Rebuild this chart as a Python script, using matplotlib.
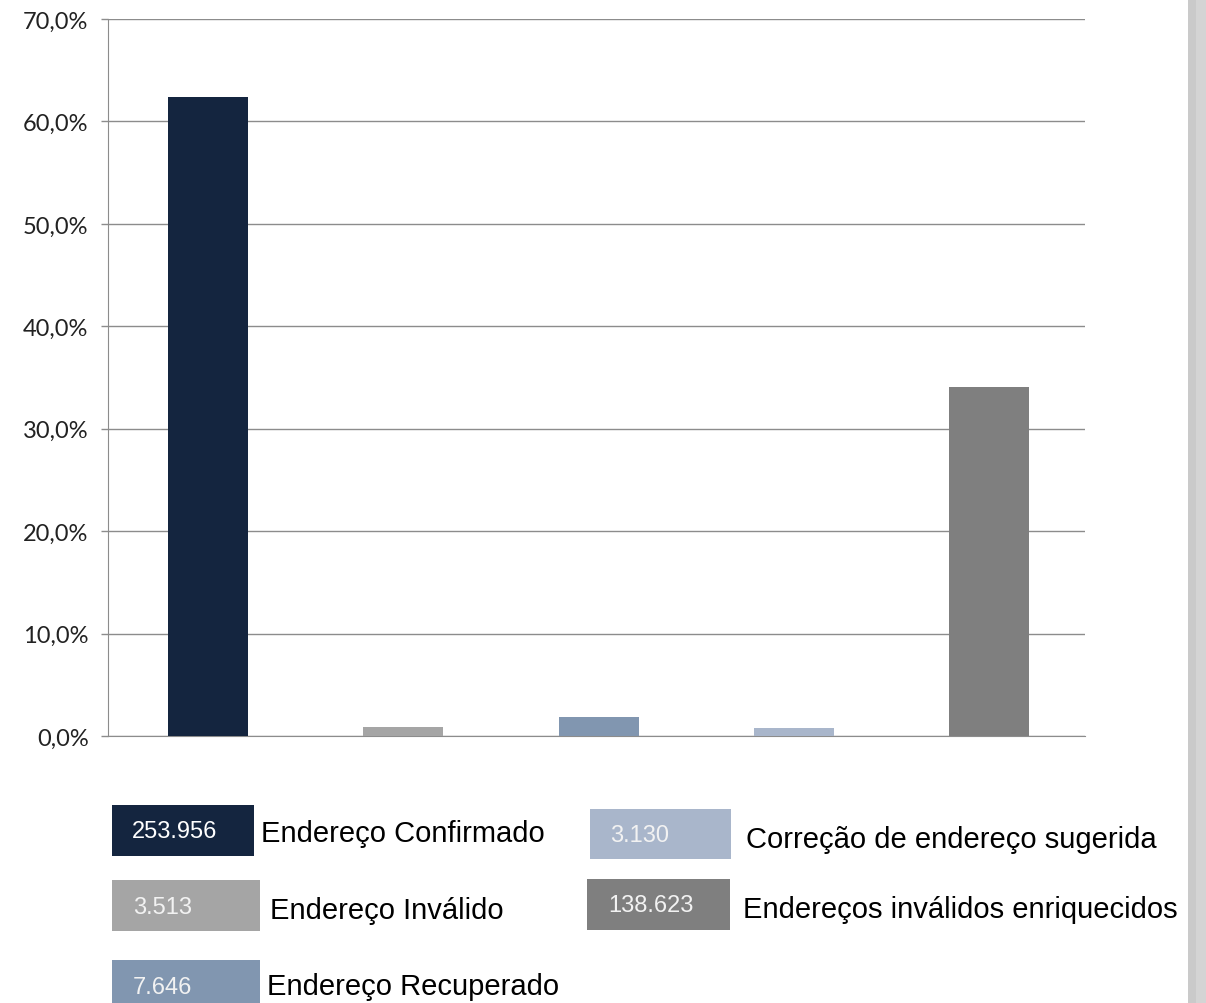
import matplotlib
matplotlib.use("Agg")
import matplotlib.pyplot as plt
from matplotlib.patches import Rectangle
from matplotlib.ticker import FuncFormatter

categorias = ["Endereço Confirmado", "Endereço Inválido", "Endereço Recuperado",
              "Correção de endereço sugerida", "Endereços inválidos enriquecidos"]
percentuais = [62.4, 0.9, 1.9, 0.8, 34.1]
quantidades = ["253.956", "3.513", "7.646", "3.130", "138.623"]
cores = ["#14253f", "#a5a5a5", "#8196b0", "#a9b6cb", "#7f7f7f"]
yticks = [0, 10, 20, 30, 40, 50, 60, 70]

W, H = 1206, 1004
fig = plt.figure(figsize=(W / 100, H / 100), dpi=100)


def fx(px):
    return px / W


def fy(py):
    return 1 - py / H


ax = fig.add_axes([fx(108), fy(737), fx(1085) - fx(108), fy(20) - fy(737)])
x = range(len(categorias))
ax.bar(x, percentuais, width=0.41, color=cores, zorder=3)
ax.set_xlim(-0.512, len(categorias) - 0.51)
ax.set_ylim(0, 70)
ax.set_yticks(yticks)
ax.yaxis.set_major_formatter(FuncFormatter(lambda v, p: f"{v:.1f}".replace(".", ",") + "%"))
ax.set_xticks([])
ax.grid(axis="y", color="#8c8c8c", linewidth=1, zorder=0)
for s in ["top", "right"]:
    ax.spines[s].set_visible(False)
ax.spines["left"].set_color("#8c8c8c")
ax.spines["bottom"].set_color("#8c8c8c")
ax.tick_params(axis="y", length=5, color="#8c8c8c", width=1, pad=9,
               labelsize=17, labelcolor="#222222")
for lbl in ax.get_yticklabels():
    lbl.set_fontfamily("Lato")

# legenda com quantidades
caixas = [(112, 806, 254, 857), (112, 881, 260, 932), (112, 961, 260, 1010),
          (590, 810, 731, 860), (587, 880, 730, 931)]
pos_num = [(132, 832), (133, 908), (133, 988), (610, 836), (608, 906)]
pos_txt = [(261, 834), (270, 911), (267, 987), (746, 840), (743, 910)]
cor_num = ["white", "#f2f2f2", "#f2f2f2", "#f2f2f2", "#f2f2f2"]
for i in range(len(categorias)):
    x0, y0, x1, y1 = caixas[i]
    fig.add_artist(Rectangle((fx(x0), fy(y1)), fx(x1 - x0), (y1 - y0) / H,
                             transform=fig.transFigure, facecolor=cores[i],
                             edgecolor="none"))
    fig.text(fx(pos_num[i][0]), fy(pos_num[i][1]), quantidades[i], color=cor_num[i],
             fontsize=17, family="Liberation Sans", va="center", ha="left")
    fig.text(fx(pos_txt[i][0]), fy(pos_txt[i][1]), categorias[i], color="black",
             fontsize=21, family="Liberation Sans", va="center", ha="left")

# faixa cinza à direita
fig.add_artist(Rectangle((fx(1188), 0), fx(8), 1, transform=fig.transFigure,
                         facecolor="#cacaca", edgecolor="none"))
fig.add_artist(Rectangle((fx(1196), 0), fx(10), 1, transform=fig.transFigure,
                         facecolor="#d4d4d4", edgecolor="none"))

fig.savefig("out.png", dpi=100)
